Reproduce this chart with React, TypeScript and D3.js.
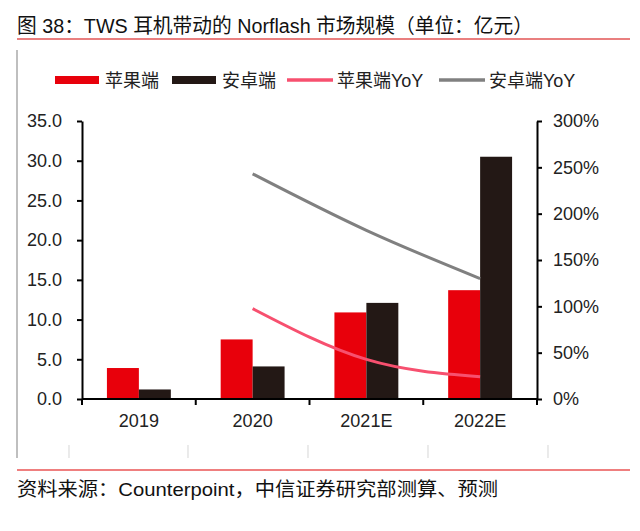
import { useRef, useEffect } from "react";
import * as d3 from "d3";

const categories = ["2019", "2020", "2021E", "2022E"];
const appleValues = [3.9, 7.5, 10.9, 13.7];
const androidValues = [1.2, 4.1, 12.1, 30.5];
const appleYoY = [null, 0.975, 0.427, 0.24];
const androidYoY = [null, 2.43, 1.82, 1.3];
const leftTicks = [0, 5, 10, 15, 20, 25, 30, 35];
const rightTicks = [0, 0.5, 1, 1.5, 2, 2.5, 3];
const legendItems = [
  { label: "苹果端", type: "bar", color: "#e8000b" },
  { label: "安卓端", type: "bar", color: "#231815" },
  { label: "苹果端YoY", type: "line", color: "#f7506f" },
  { label: "安卓端YoY", type: "line", color: "#808080" },
];

const FONT = "'Liberation Sans', Arial, 'Noto Sans CJK SC', sans-serif";

const App = () => {
  const ref = useRef<SVGSVGElement>(null);

  useEffect(() => {
    if (!ref.current) return;
    const width = 640;
    const height = 531;
    const svg = d3.select(ref.current);
    svg.selectAll("*").remove();
    svg.attr("width", width).attr("height", height).style("font-family", FONT);

    svg.append("rect").attr("width", width).attr("height", height).attr("fill", "#fff");

    // title + rules
    svg
      .append("text")
      .attr("x", 17)
      .attr("y", 33)
      .attr("font-size", 20)
      .attr("fill", "#111")
      .attr("textLength", 516)
      .attr("lengthAdjust", "spacingAndGlyphs")
      .text("图 38：TWS 耳机带动的 Norflash 市场规模（单位：亿元）");
    svg.append("line").attr("x1", 17).attr("x2", 630).attr("y1", 39).attr("y2", 39)
      .attr("stroke", "#d40000").attr("stroke-width", 1.2);
    svg.append("line").attr("x1", 17).attr("x2", 630).attr("y1", 470).attr("y2", 470)
      .attr("stroke", "#e00000").attr("stroke-width", 1.2);
    svg
      .append("text")
      .attr("x", 17)
      .attr("y", 496)
      .attr("font-size", 19)
      .attr("fill", "#111")
      .attr("textLength", 481)
      .attr("lengthAdjust", "spacingAndGlyphs")
      .text("资料来源：Counterpoint，中信证券研究部测算、预测");

    // frame remnants
    svg.append("line").attr("x1", 17).attr("x2", 17).attr("y1", 50).attr("y2", 458)
      .attr("stroke", "#aaa").attr("stroke-width", 1.5);
    [69, 188, 308, 428, 548].forEach((x) =>
      svg.append("line").attr("x1", x).attr("x2", x).attr("y1", 445).attr("y2", 458)
        .attr("stroke", "#ddd").attr("stroke-width", 1.2)
    );

    // scales
    const x = d3.scaleBand().domain(categories).range([82, 537]).padding(0);
    const x1 = d3.scaleBand().domain(["apple", "android"]).range([0, x.bandwidth()]).paddingInner(0).paddingOuter(0.78);
    const y = d3.scaleLinear().domain([0, 35]).range([399, 121]);
    const y2 = d3.scaleLinear().domain([0, 3]).range([399, 121]);

    // bars
    const g = svg.append("g");
    const series = [
      { key: "apple", values: appleValues, color: "#e8000b" },
      { key: "android", values: androidValues, color: "#231815" },
    ];
    series.forEach((s) => {
      g.selectAll(null)
        .data(s.values)
        .enter()
        .append("rect")
        .attr("x", (_d, i) => (x(categories[i]) as number) + (x1(s.key) as number))
        .attr("y", (d) => y(d))
        .attr("width", x1.bandwidth())
        .attr("height", (d) => y(0) - y(d))
        .attr("fill", s.color);
    });

    // lines
    const line = d3
      .line<number | null>()
      .defined((d) => d !== null)
      .x((_d, i) => (x(categories[i]) as number) + x.bandwidth() / 2)
      .y((d) => y2(d as number))
      .curve(d3.curveMonotoneX);
    svg.append("path").datum(androidYoY).attr("d", line as any).attr("fill", "none")
      .attr("stroke", "#808080").attr("stroke-width", 3);
    svg.append("path").datum(appleYoY).attr("d", line as any).attr("fill", "none")
      .attr("stroke", "#f7506f").attr("stroke-width", 3);

    // axes
    const styleAxis = (sel: any) => {
      sel.selectAll("path,line").attr("stroke", "#000").attr("stroke-width", 2);
      sel.selectAll("text").attr("font-size", 18).attr("fill", "#222").style("font-family", FONT);
    };
    svg
      .append("g")
      .attr("transform", "translate(82,0)")
      .call(d3.axisLeft(y).tickValues(leftTicks).tickFormat(d3.format(".1f")).tickSize(5).tickSizeOuter(0).tickPadding(15))
      .call(styleAxis);
    svg
      .append("g")
      .attr("transform", "translate(537,0)")
      .call(d3.axisRight(y2).tickValues(rightTicks).tickFormat(d3.format(".0%")).tickSize(5).tickSizeOuter(0).tickPadding(11))
      .call(styleAxis);
    const xAxis = svg
      .append("g")
      .attr("transform", "translate(0,399)")
      .call(d3.axisBottom(x).tickSize(0).tickSizeOuter(0).tickPadding(15))
      .call(styleAxis);
    xAxis.select(".domain").remove();
    svg.append("line").attr("x1", 82).attr("x2", 537).attr("y1", 399).attr("y2", 399)
      .attr("stroke", "#000").attr("stroke-width", 2);
    [...categories.map((c) => x(c) as number), 537].forEach((bx) =>
      svg.append("line").attr("x1", bx).attr("x2", bx).attr("y1", 399).attr("y2", 405)
        .attr("stroke", "#000").attr("stroke-width", 2)
    );

    // legend
    const legendX = [55, 172, 287, 439];
    const lg = svg.append("g").attr("transform", "translate(0,80)");
    legendItems.forEach((item, i) => {
      const lx = legendX[i];
      if (item.type === "bar") {
        lg.append("rect").attr("x", lx).attr("y", -4).attr("width", 44).attr("height", 8).attr("fill", item.color);
      } else {
        lg.append("line").attr("x1", lx).attr("x2", lx + 46).attr("y1", 0).attr("y2", 0)
          .attr("stroke", item.color).attr("stroke-width", 3.5);
      }
      lg.append("text").attr("x", lx + 50).attr("y", 6.5).attr("font-size", 18).attr("fill", "#222").text(item.label);
    });
  }, []);

  return <svg ref={ref} style={{ position: "absolute", left: 0, top: 0 }} />;
};

export default App;
